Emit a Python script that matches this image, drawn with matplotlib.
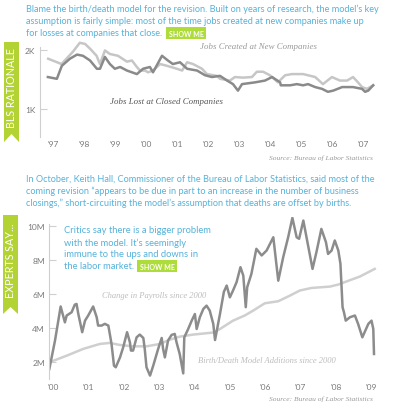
import numpy as np
import matplotlib
matplotlib.use('Agg')
import matplotlib.pyplot as plt
from matplotlib.patches import Polygon

# ---- data: top chart (thousands of jobs)
created_years = [1996.83, 1997.26, 1997.63, 1997.85, 1998.02, 1998.18, 1998.39, 1998.50,
                 1998.66, 1998.82, 1999.08, 1999.37, 1999.53, 1999.69, 1999.79, 1999.95,
                 2000.05, 2000.21, 2000.44, 2000.66, 2000.98, 2001.15, 2001.31, 2001.50,
                 2001.79, 2001.95, 2002.27, 2002.37, 2002.69, 2002.85, 2003.11, 2003.40,
                 2003.56, 2003.76, 2003.98, 2004.24, 2004.47, 2004.69, 2005.05, 2005.21,
                 2005.44, 2005.69, 2005.98, 2006.24, 2006.47, 2006.66, 2006.82, 2006.95,
                 2007.11, 2007.31]
created_k = [1.85, 1.76, 1.97, 2.12, 2.10, 2.02, 1.90, 1.76,
             1.99, 1.93, 1.90, 1.80, 1.82, 1.71, 1.65, 1.65,
             1.62, 1.65, 1.76, 1.73, 1.68, 1.65, 1.79, 1.76,
             1.68, 1.59, 1.56, 1.51, 1.48, 1.54, 1.53, 1.54,
             1.63, 1.63, 1.57, 1.45, 1.57, 1.59, 1.59, 1.57,
             1.54, 1.42, 1.54, 1.48, 1.48, 1.54, 1.45, 1.37,
             1.34, 1.40]

lost_years = [1996.82, 1997.11, 1997.27, 1997.53, 1997.76, 1997.95, 1998.18, 1998.40,
              1998.50, 1998.66, 1998.82, 1998.98, 1999.15, 1999.37, 1999.69, 1999.89,
              2000.11, 2000.21, 2000.50, 2000.69, 2000.85, 2001.08, 2001.31, 2001.63,
              2001.89, 2002.11, 2002.37, 2002.60, 2002.79, 2002.95, 2003.08, 2003.50,
              2003.82, 2004.05, 2004.31, 2004.33, 2004.63, 2004.85, 2005.05, 2005.21,
              2005.44, 2005.66, 2005.85, 2006.02, 2006.31, 2006.66, 2006.95, 2007.05,
              2007.15, 2007.31]
lost_k = [1.54, 1.51, 1.73, 1.85, 1.92, 1.90, 1.82, 1.68,
          1.68, 1.88, 1.76, 1.68, 1.71, 1.65, 1.59, 1.68,
          1.71, 1.62, 1.90, 1.82, 1.76, 1.79, 1.68, 1.65,
          1.57, 1.54, 1.56, 1.48, 1.42, 1.31, 1.42, 1.45,
          1.48, 1.54, 1.45, 1.40, 1.40, 1.42, 1.40, 1.42,
          1.37, 1.34, 1.29, 1.31, 1.37, 1.37, 1.34, 1.29,
          1.31, 1.40]

# ---- data: bottom chart (millions of jobs)
payroll_years = [1999.89, 2000.05, 2000.21, 2000.33, 2000.38, 2000.52, 2000.61, 2000.66,
                 2000.71, 2000.82, 2000.90, 2000.99, 2001.13, 2001.23, 2001.27, 2001.37,
                 2001.46, 2001.56, 2001.65, 2001.72, 2001.77, 2001.89, 2001.98, 2002.09,
                 2002.17, 2002.20, 2002.26, 2002.36, 2002.45, 2002.55, 2002.59, 2002.64,
                 2002.74, 2002.83, 2002.97, 2003.07, 2003.11, 2003.16, 2003.25, 2003.35,
                 2003.44, 2003.49, 2003.58, 2003.68, 2003.71, 2003.82, 2003.92, 2004.01,
                 2004.06, 2004.15, 2004.25, 2004.34, 2004.43, 2004.53, 2004.58, 2004.72,
                 2004.83, 2004.91, 2005.00, 2005.09, 2005.19, 2005.30, 2005.38, 2005.45,
                 2005.49, 2005.61, 2005.75, 2005.90, 2006.04, 2006.23, 2006.37, 2006.51,
                 2006.65, 2006.77, 2006.89, 2006.96, 2007.08, 2007.34, 2007.45, 2007.59,
                 2007.72, 2007.78, 2007.88, 2007.97, 2008.07, 2008.13, 2008.19, 2008.23,
                 2008.28, 2008.40, 2008.54, 2008.63, 2008.75, 2008.92, 2009.01, 2009.06,
                 2009.08]
payroll_m = [1.57, 3.24, 5.24, 4.31, 4.71, 4.90, 5.35, 5.39,
             4.80, 3.73, 4.41, 4.71, 5.24, 4.61, 4.12, 4.12,
             4.22, 4.12, 3.04, 1.76, 1.67, 2.25, 2.84, 3.73,
             3.14, 2.65, 2.65, 3.43, 3.59, 3.39, 2.75, 1.67,
             1.18, 1.76, 2.75, 3.39, 2.75, 2.25, 3.24, 3.57,
             3.63, 3.14, 2.45, 1.31, 3.43, 3.92, 4.41, 4.80,
             3.92, 4.61, 5.10, 5.29, 5.00, 4.22, 3.27, 4.80,
             6.10, 6.47, 5.78, 6.18, 6.67, 7.55, 7.06, 5.20,
             6.37, 7.16, 8.63, 8.24, 8.53, 9.31, 6.76, 8.14,
             9.31, 10.45, 9.31, 9.22, 10.29, 7.45, 8.43, 9.80,
             9.02, 8.33, 8.53, 9.12, 8.53, 7.75, 5.20, 4.90,
             4.41, 4.61, 4.71, 4.22, 3.43, 4.22, 4.41, 3.92,
             2.45]

bd_years = [1999.89, 2000.38, 2000.85, 2001.32, 2001.60, 2001.89, 2002.26, 2002.64,
            2003.02, 2003.30, 2003.58, 2003.96, 2004.53, 2004.72, 2005.09, 2005.42,
            2005.66, 2005.99, 2006.37, 2006.70, 2006.98, 2007.31, 2007.83, 2008.07,
            2008.30, 2008.68, 2009.10]
bd_m = [1.96, 2.35, 2.75, 3.04, 3.10, 2.98, 2.90, 2.90,
        3.04, 3.29, 3.47, 3.59, 3.71, 3.92, 4.41, 4.71,
        5.00, 5.43, 5.55, 5.88, 6.18, 6.33, 6.41, 6.53,
        6.71, 7.00, 7.45]

top_ticks = [1, 2]
top_ticklabels = ['1K', '2K']
top_years = list(range(1997, 2008))
bot_ticks = [2, 4, 6, 8, 10]
bot_ticklabels = ['2M', '4M', '6M', '8M', '10M']
bot_years = list(range(2000, 2010))

BLUE = '#55b2da'
GREEN = '#b3d334'
plt.rcParams['font.family'] = ['Lato', 'DejaVu Sans']
SERIF = ['Liberation Serif', 'DejaVu Serif']

W, H = 400, 410
fig = plt.figure(figsize=(4, 4.1), dpi=100)
fig.patch.set_facecolor('white')
renderer = fig.canvas.get_renderer()


def fx(x):
    return x / W


def fy(y):
    return 1 - y / H


def fit(x, y, s, span, vertical=False, **kw):
    # size the text so it covers 'span' pixels
    t = fig.text(fx(x), fy(y), s, fontsize=8, **kw)
    bb = t.get_window_extent(renderer)
    t.set_fontsize(8 * span / (bb.height if vertical else bb.width))
    return t


def para(x, y0, lines, span, dy):
    t0 = fit(x, y0, lines[0], span, color=BLUE, va='center', ha='left')
    out = [t0]
    for i, line in enumerate(lines[1:], 1):
        out.append(fig.text(fx(x), fy(y0 + i * dy), line, fontsize=t0.get_fontsize(),
                            color=BLUE, va='center', ha='left'))
    return out


def badge_after(t):
    bb = t.get_window_extent(renderer)
    fig.text((bb.x1 + 6) / W, (bb.y0 + bb.y1) / 2 / H - 0.002, 'SHOW ME', color='white',
             fontsize=5, fontweight='bold', va='center', ha='left',
             bbox=dict(boxstyle='square,pad=0.35', fc='#aedc3a', ec='none'))


def ribbon(x0, x1, y0, y1, notch, label):
    pts = [(fx(x0), fy(y0)), (fx(x1), fy(y0)), (fx(x1), fy(y1)),
           (fx((x0 + x1) / 2), fy(y1 - notch)), (fx(x0), fy(y1))]
    fig.add_artist(Polygon(pts, closed=True, fc=GREEN, ec='none', transform=fig.transFigure))


def style(ax, ticks, ticklabels, years, top, pad):
    for s in ['top', 'right', 'bottom']:
        ax.spines[s].set_visible(False)
    ax.spines['left'].set_color('#cfcfcf')
    ax.spines['left'].set_linewidth(0.8)
    ax.spines['left'].set_bounds(ax.get_ylim()[0], top)
    ax.set_yticks(ticks)
    ax.set_yticklabels(ticklabels)
    ax.set_xticks(years)
    ax.set_xticklabels(["'%02d" % (y % 100) for y in years])
    ax.tick_params(axis='y', direction='in', length=5, width=0.8, color='#cfcfcf',
                   labelsize=6, labelcolor='#7a7a7a', pad=3)
    ax.tick_params(axis='x', length=0, labelsize=6, labelcolor='#7a7a7a', pad=pad)
    ax.set_facecolor('none')


# ---- top paragraph
p1 = para(26.5, 9, ["Blame the birth/death model for the revision. Built on years of research, the model\u2019s key",
                    "assumption is fairly simple: most of the time jobs created at new companies make up",
                    "for losses at companies that close."], 353, 12.2)
badge_after(p1[-1])

# ---- top chart
ax1 = fig.add_axes([fx(39.5), fy(138), (380 - 39.5) / W, 96 / H])
ax1.plot(created_years, created_k, color='#c6c6c6', lw=1.8, solid_joinstyle='round')
ax1.plot(lost_years, lost_k, color='#8a8a8a', lw=1.8, solid_joinstyle='round')
ax1.set_xlim(1996.55, 2007.53)
ax1.set_ylim(0.525, 2.15)
style(ax1, top_ticks, top_ticklabels, top_years, 2.05, 2.5)

fit(200, 47, 'Jobs Created at New Companies', 117, family=SERIF, style='italic',
    color='#9a9a9a', va='center', ha='left')
fit(110, 102, 'Jobs Lost at Closed Companies', 113, family=SERIF, style='italic',
    color='#555555', va='center', ha='left')
fit(373, 158, 'Source: Bureau of Labor Statistics', 104, family=SERIF, style='italic',
    color='#9a9a9a', va='center', ha='right')

ribbon(4, 19, 43, 143, 8, 'BLS RATIONALE')
fit(12, 88, 'BLS RATIONALE', 80, vertical=True, rotation=90, color='white',
    va='center', ha='center')

# ---- middle paragraph
para(26, 179.5, ["In October, Keith Hall, Commissioner of the Bureau of Labor Statistics, said most of the",
                 "coming revision \u201cappears to be due in part to an increase in the number of business",
                 "closings,\u201d short-circuiting the model\u2019s assumption that deaths are offset by births."],
     351, 12)

# ---- bottom chart
ax2 = fig.add_axes([fx(49), fy(380), (380 - 49) / W, (380 - 218) / H])
ax2.plot(bd_years, bd_m, color='#cfcfcf', lw=1.8, solid_joinstyle='round')
ax2.plot(payroll_years, payroll_m, color='#8c8c8c', lw=1.8, solid_joinstyle='round')
ax2.set_xlim(1999.88, 2009.25)
ax2.set_ylim(0.98, 10.5)
style(ax2, bot_ticks, bot_ticklabels, bot_years, 10.1, 3)

fit(102, 296, 'Change in Payrolls since 2000', 105, family=SERIF, style='italic',
    color='#bdbdbd', va='center', ha='left')
fit(198, 361, 'Birth/Death Model Additions since 2000', 140, family=SERIF, style='italic',
    color='#bdbdbd', va='center', ha='left')
fit(373, 399, 'Source: Bureau of Labor Statistics', 104, family=SERIF, style='italic',
    color='#9a9a9a', va='center', ha='right')

p3 = para(63.5, 231, ["Critics say there is a bigger problem",
                      "with the model. It\u2019s seemingly",
                      "immune to the ups and downs in",
                      "the labor market."], 147, 11.8)
badge_after(p3[-1])

ribbon(3, 18, 216, 315, 7, 'EXPERTS SAY...')
fit(10.5, 261, 'EXPERTS SAY...', 75, vertical=True, rotation=90, color='white',
    va='center', ha='center')

fig.savefig('out.png', dpi=100, facecolor='white')
